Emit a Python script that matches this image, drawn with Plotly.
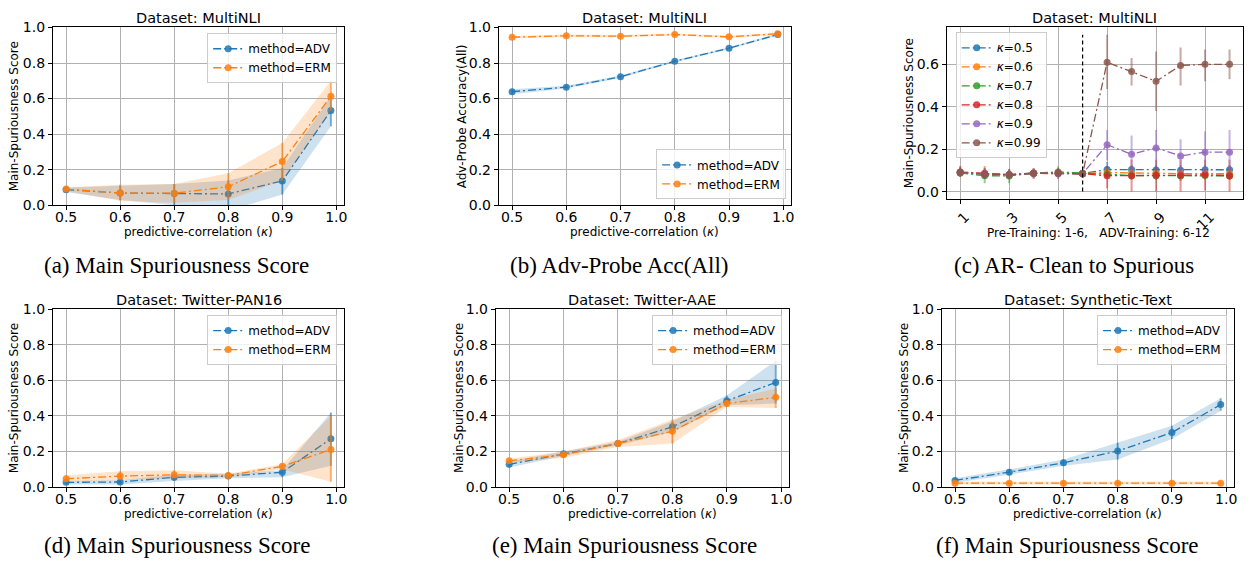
import plotly.graph_objects as go

W, H = 1250, 569

# ---------------- data ----------------
kappa = [0.5, 0.6, 0.7, 0.8, 0.9, 0.99]
kappa_ticks = [0.5, 0.6, 0.7, 0.8, 0.9, 1.0]
kappa_ticklabels = ["0.5", "0.6", "0.7", "0.8", "0.9", "1.0"]
score_ticks = [0.0, 0.2, 0.4, 0.6, 0.8, 1.0]
score_ticklabels = ["0.0", "0.2", "0.4", "0.6", "0.8", "1.0"]

# (a) MultiNLI main spuriousness
a_adv = [0.088, 0.069, 0.066, 0.064, 0.137, 0.533]
a_adv_lo = [0.075, 0.030, 0.000, -0.030, 0.060, 0.445]
a_adv_hi = [0.100, 0.110, 0.120, 0.140, 0.210, 0.615]
a_erm = [0.091, 0.069, 0.068, 0.104, 0.246, 0.613]
a_erm_lo = [0.080, 0.025, 0.015, 0.030, 0.140, 0.530]
a_erm_hi = [0.100, 0.115, 0.120, 0.180, 0.350, 0.700]

# (b) MultiNLI adv-probe accuracy
b_adv = [0.639, 0.664, 0.723, 0.810, 0.883, 0.960]
b_adv_lo = [0.625, 0.656, 0.716, 0.804, 0.878, 0.955]
b_adv_hi = [0.652, 0.672, 0.730, 0.816, 0.888, 0.965]
b_erm = [0.945, 0.953, 0.951, 0.960, 0.947, 0.964]
b_erm_lo = [0.938, 0.946, 0.945, 0.954, 0.941, 0.958]
b_erm_hi = [0.952, 0.960, 0.957, 0.966, 0.953, 0.970]

# (c) MultiNLI AR clean -> spurious
c_steps = list(range(1, 13))
c_step_ticks = [1, 3, 5, 7, 9, 11]
c_score_ticks = [0.0, 0.2, 0.4, 0.6]
c_score_ticklabels = ["0.0", "0.2", "0.4", "0.6"]
c_split_step = 6
c_split_top = 0.74
c_names = ["0.5", "0.6", "0.7", "0.8", "0.9", "0.99"]
c_k05 = [0.090, 0.083, 0.079, 0.087, 0.087, 0.085, 0.104, 0.104, 0.102, 0.101, 0.103, 0.103]
c_k05_lo = [0.075, 0.070, 0.065, 0.075, 0.075, 0.075, 0.075, 0.080, 0.075, 0.075, 0.080, 0.080]
c_k05_hi = [0.105, 0.100, 0.095, 0.100, 0.100, 0.095, 0.140, 0.125, 0.125, 0.125, 0.125, 0.125]
c_k06 = [0.090, 0.084, 0.080, 0.088, 0.088, 0.086, 0.090, 0.087, 0.086, 0.085, 0.085, 0.084]
c_k06_lo = [0.075, 0.070, 0.065, 0.075, 0.075, 0.075, 0.070, 0.070, 0.070, 0.070, 0.070, 0.070]
c_k06_hi = [0.105, 0.100, 0.100, 0.100, 0.100, 0.100, 0.110, 0.105, 0.105, 0.100, 0.100, 0.100]
c_k07 = [0.088, 0.075, 0.074, 0.086, 0.093, 0.086, 0.082, 0.076, 0.075, 0.074, 0.076, 0.074]
c_k07_lo = [0.070, 0.040, 0.040, 0.065, 0.070, 0.070, 0.060, 0.055, 0.055, 0.050, 0.055, 0.055]
c_k07_hi = [0.110, 0.110, 0.105, 0.105, 0.120, 0.100, 0.105, 0.100, 0.100, 0.100, 0.100, 0.095]
c_k08 = [0.092, 0.086, 0.080, 0.086, 0.086, 0.084, 0.075, 0.075, 0.077, 0.077, 0.079, 0.075]
c_k08_lo = [0.070, 0.060, 0.060, 0.060, 0.060, 0.065, 0.015, 0.000, 0.000, 0.000, 0.005, 0.000]
c_k08_hi = [0.120, 0.120, 0.105, 0.110, 0.110, 0.100, 0.120, 0.150, 0.150, 0.150, 0.150, 0.150]
c_k09 = [0.090, 0.083, 0.080, 0.087, 0.085, 0.085, 0.221, 0.176, 0.206, 0.168, 0.186, 0.186]
c_k09_lo = [0.075, 0.065, 0.065, 0.070, 0.070, 0.070, 0.148, 0.087, 0.118, 0.087, 0.087, 0.087]
c_k09_hi = [0.105, 0.100, 0.100, 0.100, 0.100, 0.100, 0.290, 0.265, 0.290, 0.247, 0.285, 0.290]
c_k099 = [0.091, 0.082, 0.079, 0.087, 0.087, 0.084, 0.610, 0.566, 0.520, 0.595, 0.600, 0.600]
c_k099_lo = [0.070, 0.065, 0.060, 0.065, 0.065, 0.065, 0.484, 0.500, 0.380, 0.500, 0.520, 0.530]
c_k099_hi = [0.120, 0.110, 0.105, 0.110, 0.105, 0.100, 0.740, 0.630, 0.660, 0.680, 0.670, 0.670]

# (d) Twitter-PAN16
d_adv = [0.027, 0.029, 0.055, 0.062, 0.084, 0.272]
d_adv_lo = [0.015, 0.015, 0.035, 0.050, 0.055, 0.120]
d_adv_hi = [0.035, 0.040, 0.070, 0.075, 0.095, 0.420]
d_erm = [0.047, 0.062, 0.069, 0.066, 0.117, 0.212]
d_erm_lo = [0.030, 0.040, 0.050, 0.055, 0.100, 0.030]
d_erm_hi = [0.065, 0.090, 0.095, 0.075, 0.130, 0.400]

# (e) Twitter-AAE
e_adv = [0.128, 0.188, 0.245, 0.339, 0.485, 0.589]
e_adv_lo = [0.110, 0.175, 0.235, 0.310, 0.460, 0.470]
e_adv_hi = [0.145, 0.200, 0.255, 0.370, 0.515, 0.710]
e_erm = [0.148, 0.182, 0.245, 0.314, 0.470, 0.505]
e_erm_lo = [0.135, 0.165, 0.225, 0.245, 0.450, 0.445]
e_erm_hi = [0.160, 0.200, 0.265, 0.380, 0.490, 0.555]

# (f) Synthetic-Text
f_adv = [0.038, 0.084, 0.137, 0.203, 0.307, 0.464]
f_adv_lo = [0.025, 0.070, 0.120, 0.155, 0.270, 0.430]
f_adv_hi = [0.050, 0.100, 0.155, 0.250, 0.345, 0.500]
f_erm = [0.022, 0.022, 0.022, 0.022, 0.022, 0.022]
f_erm_lo = [0.015, 0.015, 0.015, 0.015, 0.015, 0.015]
f_erm_hi = [0.030, 0.030, 0.030, 0.030, 0.030, 0.030]

titles = ["Dataset: MultiNLI", "Dataset: MultiNLI", "Dataset: MultiNLI",
          "Dataset: Twitter-PAN16", "Dataset: Twitter-AAE", "Dataset: Synthetic-Text"]
captions = ["(a) Main Spuriousness Score", "(b) Adv-Probe Acc(All)", "(c) AR- Clean to Spurious",
            "(d) Main Spuriousness Score", "(e) Main Spuriousness Score", "(f) Main Spuriousness Score"]
ylabels = ["Main-Spuriousness Score", "Adv-Probe Accuracy(All)", "Main-Spuriousness Score",
           "Main-Spuriousness Score", "Main-Spuriousness Score", "Main-Spuriousness Score"]
xlabel_kappa = "predictive-correlation (<i>κ</i>)"
xlabel_c = "Pre-Training: 1-6,\u00a0\u00a0\u00a0ADV-Training: 6-12"

# ---------------- styling / layout ----------------
COLORS = ["#1f77b4", "#ff7f0e", "#2ca02c", "#d62728", "#9467bd", "#8c564b"]
FONT = "DejaVu Sans"
SERIF = "Liberation Serif"
DASH = "8px,3px,2px,3px"


def rgba(hexc, a):
    h = hexc.lstrip("#")
    return "rgba(%d,%d,%d,%s)" % (int(h[0:2], 16), int(h[2:4], 16), int(h[4:6], 16), a)


def px(x):
    return x / W


def py(y):
    return 1 - y / H


# panel boxes in pixels: (left, right, top, bottom)
boxes = [(53, 345, 20, 203), (500, 793, 20, 203), (949, 1246, 20, 197),
         (53, 345, 310, 493), (497, 791, 310, 493), (944, 1237, 310, 493)]

fig = go.Figure()


def add_series(x, y, lo, hi, color, name, idx, band=True, ealpha=0.55):
    sfx = "" if idx == 1 else str(idx)
    xa, ya = "x" + sfx, "y" + sfx
    leg = "legend" if idx == 1 else "legend" + str(idx)
    if band:
        fig.add_trace(go.Scatter(x=list(x) + list(x)[::-1], y=list(hi) + list(lo)[::-1],
                                 fill="toself", fillcolor=rgba(color, 0.22), line=dict(width=0),
                                 mode="lines", hoverinfo="skip", showlegend=False,
                                 xaxis=xa, yaxis=ya))
    fig.add_trace(go.Scatter(
        x=x, y=y, name=name, mode="lines+markers", legend=leg,
        line=dict(color=color, width=1.3, dash=DASH),
        marker=dict(color=rgba(color, 0.85), size=7, line=dict(width=0)),
        error_y=dict(type="data", symmetric=False,
                     array=[h - v for h, v in zip(hi, y)],
                     arrayminus=[v - l for v, l in zip(y, lo)],
                     color=rgba(color, ealpha), thickness=2, width=0),
        xaxis=xa, yaxis=ya))


# panels a, b, d, e, f
two_method = {1: (a_adv, a_adv_lo, a_adv_hi, a_erm, a_erm_lo, a_erm_hi),
              2: (b_adv, b_adv_lo, b_adv_hi, b_erm, b_erm_lo, b_erm_hi),
              4: (d_adv, d_adv_lo, d_adv_hi, d_erm, d_erm_lo, d_erm_hi),
              5: (e_adv, e_adv_lo, e_adv_hi, e_erm, e_erm_lo, e_erm_hi),
              6: (f_adv, f_adv_lo, f_adv_hi, f_erm, f_erm_lo, f_erm_hi)}
for idx, (ya_, yal, yah, ye, yel, yeh) in two_method.items():
    add_series(kappa, ya_, yal, yah, COLORS[0], "method=ADV", idx)
    add_series(kappa, ye, yel, yeh, COLORS[1], "method=ERM", idx)

# panel c
c_series = [(c_k05, c_k05_lo, c_k05_hi), (c_k06, c_k06_lo, c_k06_hi), (c_k07, c_k07_lo, c_k07_hi),
            (c_k08, c_k08_lo, c_k08_hi), (c_k09, c_k09_lo, c_k09_hi), (c_k099, c_k099_lo, c_k099_hi)]
for i, (v, lo, hi) in enumerate(c_series):
    add_series(c_steps, v, lo, hi, COLORS[i], "<i>κ</i>=" + c_names[i], 3, band=False, ealpha=0.5)

fig.add_shape(type="line", xref="x3", yref="y3", x0=c_split_step, x1=c_split_step,
              y0=0, y1=c_split_top, line=dict(color="black", width=1.2, dash="4px,3px"))

axis_common = dict(showline=True, linecolor="black", linewidth=1, mirror=True,
                   ticks="outside", ticklen=4, tickcolor="black", tickwidth=1,
                   showgrid=True, gridcolor="#b0b0b0", gridwidth=1, zeroline=False,
                   tickfont=dict(family=FONT, size=14, color="black"))

layout = {}
for i, (l, r, t, b) in enumerate(boxes, start=1):
    sfx = "" if i == 1 else str(i)
    xd = dict(axis_common, domain=[px(l), px(r)], anchor="y" + sfx)
    yd = dict(axis_common, domain=[py(b), py(t)], anchor="x" + sfx)
    if i == 3:
        xd.update(range=[0.45, 12.55], tickvals=c_step_ticks, tickangle=-45,
                  ticklabelshift=5, ticklabelstandoff=-1)
        yd.update(range=[-0.037, 0.774], tickvals=c_score_ticks, ticktext=c_score_ticklabels)
    else:
        xd.update(range=[0.4755, 1.0145], tickvals=kappa_ticks, ticktext=kappa_ticklabels,
                  ticklabelstandoff=-5)
        yd.update(range=[0, 1], tickvals=score_ticks, ticktext=score_ticklabels)
    layout["xaxis" + sfx] = xd
    layout["yaxis" + sfx] = yd

legend_common = dict(bgcolor="rgba(255,255,255,0.8)", bordercolor="#cccccc", borderwidth=1,
                     font=dict(family=FONT, size=12, color="black"), itemwidth=30,
                     tracegroupgap=0, traceorder="normal")
leg_pos = {1: (338, 26, "right", "top"), 2: (788, 197, "right", "bottom"),
           3: (958, 25, "left", "top"), 4: (338, 316, "right", "top"),
           5: (784, 316, "right", "top"), 6: (1230, 316, "right", "top")}
for i, (lx, ly, xa, yan) in leg_pos.items():
    key = "legend" if i == 1 else "legend" + str(i)
    layout[key] = dict(legend_common, x=px(lx), y=py(ly), xanchor=xa, yanchor=yan)

annotations = []
title_y = [10, 10, 10, 300, 300, 300]
xlab_y = [230, 230, 231, 521, 521, 521]
ylab_x = [14, 463, 912, 14, 460, 906]
cap_pos = [(177, 265), (620, 265), (1077, 265), (177, 553), (626, 553), (1070, 553)]
for i, (l, r, t, b) in enumerate(boxes):
    cx = (l + r) / 2
    annotations.append(dict(text=titles[i], x=px(cx), y=py(title_y[i]), xref="paper", yref="paper",
                            showarrow=False, xanchor="center", yanchor="middle",
                            font=dict(family=FONT, size=14.5, color="black")))
    annotations.append(dict(text=xlabel_c if i == 2 else xlabel_kappa, x=px(cx + (4 if i == 2 else 0)),
                            y=py(xlab_y[i]), xref="paper", yref="paper", showarrow=False,
                            xanchor="center", yanchor="middle",
                            font=dict(family=FONT, size=12, color="black")))
    annotations.append(dict(text=ylabels[i], x=px(ylab_x[i]), y=py((t + b) / 2), xref="paper",
                            yref="paper", showarrow=False, textangle=-90, xanchor="center",
                            yanchor="middle", font=dict(family=FONT, size=12, color="black")))
    annotations.append(dict(text=captions[i], x=px(cap_pos[i][0]), y=py(cap_pos[i][1]),
                            xref="paper", yref="paper", showarrow=False, xanchor="center",
                            yanchor="middle", font=dict(family=SERIF, size=23, color="black")))

fig.update_layout(width=W, height=H, margin=dict(l=0, r=0, t=0, b=0),
                  paper_bgcolor="white", plot_bgcolor="white", annotations=annotations,
                  font=dict(family=FONT, color="black"), **layout)

fig.write_html("out.html")
